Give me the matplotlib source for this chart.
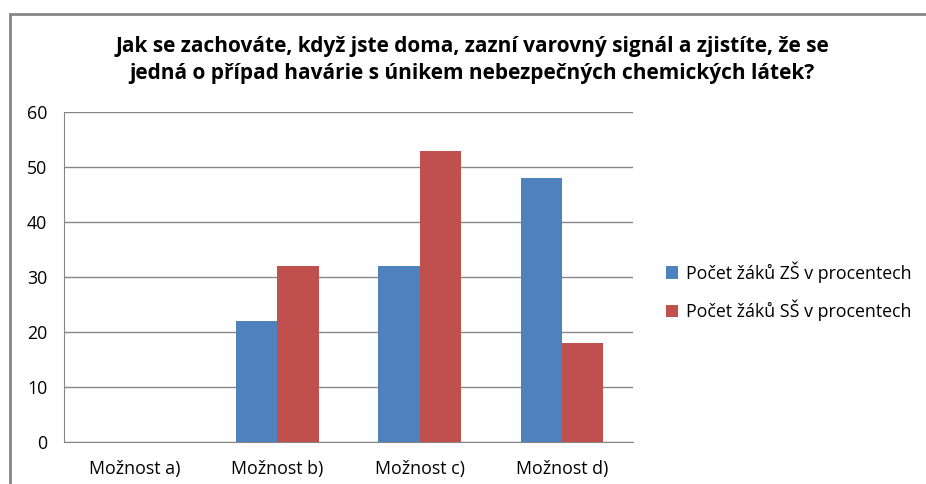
import numpy as np
import matplotlib.pyplot as plt
from matplotlib.patches import Rectangle

# Data
categories = ["Možnost a)", "Možnost b)", "Možnost c)", "Možnost d)"]
zs_values = [0, 22, 32, 48]
ss_values = [0, 32, 53, 18]
series_names = ["Počet žáků ZŠ v procentech", "Počet žáků SŠ v procentech"]
title = ("Jak se zachováte, když jste doma, zazní varovný signál a zjistíte, že se\n"
         "jedná o případ havárie s únikem nebezpečných chemických látek?")

plt.rcParams['font.family'] = ['Open Sans', 'DejaVu Sans']

fig = plt.figure(figsize=(9.26, 4.84), dpi=100)
# outer chart frame
fig.patches.append(Rectangle((10 / 926, -0.1), 1.0, 1 - 14 / 484 + 0.1,
                             transform=fig.transFigure, fill=False,
                             edgecolor="#868686", linewidth=2))

ax = fig.add_axes([64 / 926, 1 - 442 / 484, (633 - 64) / 926, (442 - 112) / 484])

x = np.arange(len(categories))
w = 0.29
ax.bar(x - w / 2, zs_values, w, color="#4F81BD", label=series_names[0], zorder=3)
ax.bar(x + w / 2, ss_values, w, color="#C0504D", label=series_names[1], zorder=3)

ax.set_xlim(-0.5, len(categories) - 0.5)
ax.set_ylim(0, 60)
ax.set_yticks(range(0, 61, 10))
ax.set_xticks(x)
ax.set_xticklabels(categories)
ax.tick_params(axis="both", length=0, labelsize=12.8, colors="#000000")
ax.tick_params(axis="y", pad=12)
ax.tick_params(axis="x", pad=13)
ax.grid(axis="y", color="#868686", linewidth=1, zorder=0)
for s in ["top", "right"]:
    ax.spines[s].set_visible(False)
for s in ["left", "bottom"]:
    ax.spines[s].set_color("#868686")

fig.text(472 / 926, 1 - 60 / 484, title, ha="center", va="center",
         fontsize=15, fontweight="bold", linespacing=1.4)

fig.legend(loc="center left", bbox_to_anchor=(650 / 926, 1 - 291 / 484),
           frameon=False, fontsize=12.8, handlelength=0.7, handleheight=0.7,
           handletextpad=0.4, labelspacing=0.95)

fig.savefig("out.png", dpi=100)
